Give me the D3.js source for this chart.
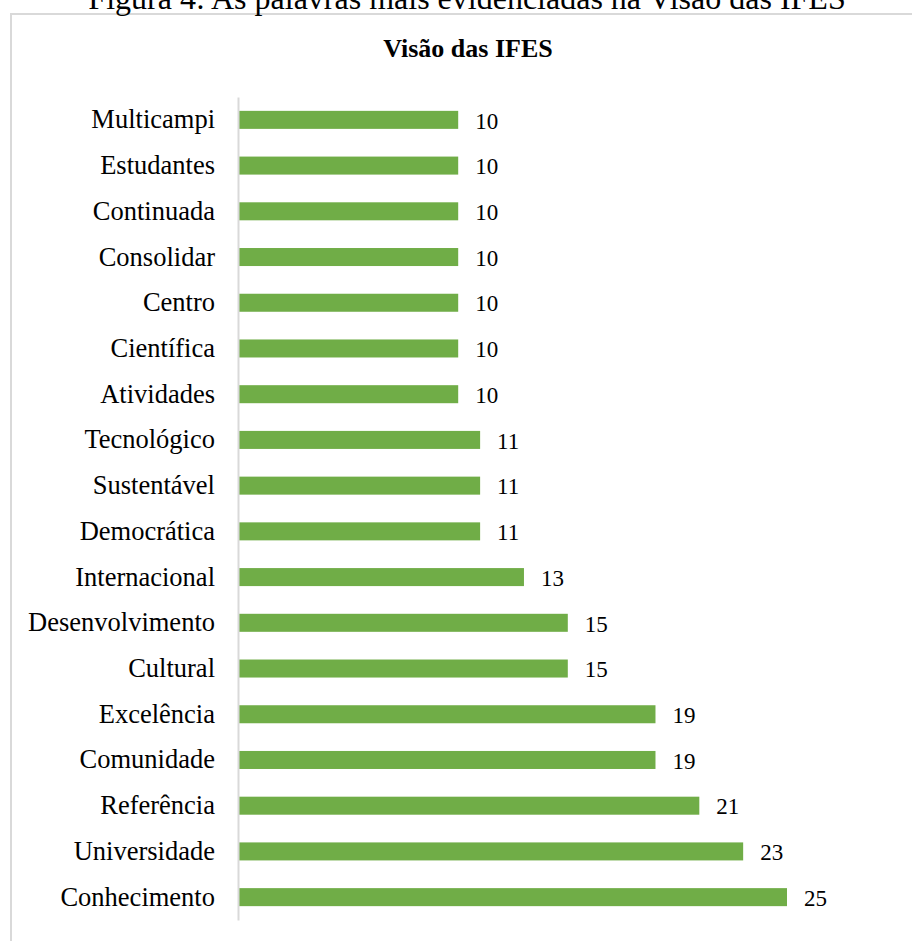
<!DOCTYPE html>
<html>
<head>
<meta charset="utf-8">
<script src="https://cdn.jsdelivr.net/npm/d3@7"></script>
<style>
  html, body { margin: 0; padding: 0; background: #fff; }
  svg { display: block; }
</style>
</head>
<body>
<div id="viz"></div>
<script>
// data, top to bottom as drawn
const words = ['Multicampi', 'Estudantes', 'Continuada', 'Consolidar', 'Centro', 'Científica',
  'Atividades', 'Tecnológico', 'Sustentável', 'Democrática', 'Internacional', 'Desenvolvimento',
  'Cultural', 'Excelência', 'Comunidade', 'Referência', 'Universidade', 'Conhecimento'];
const counts = [10, 10, 10, 10, 10, 10, 10, 11, 11, 11, 13, 15, 15, 19, 19, 21, 23, 25];

const caption = 'Figura 4: As palavras mais evidenciadas na Visão das IFES';
const title = 'Visão das IFES';

const width = 912, height = 941;
const font = '"Liberation Serif", "Times New Roman", serif';

const svg = d3.select('#viz').append('svg')
  .attr('width', width)
  .attr('height', height)
  .attr('font-family', font);

// chart frame (runs off the right and bottom of the picture)
svg.append('rect')
  .attr('x', 11).attr('y', 14)
  .attr('width', width).attr('height', height)
  .attr('fill', '#fff')
  .attr('stroke', '#d9d9d9')
  .attr('stroke-width', 2);

svg.append('text')
  .attr('x', 467).attr('y', 9)
  .attr('text-anchor', 'middle')
  .attr('font-size', 32)
  .attr('fill', '#000')
  .text(caption);

svg.append('text')
  .attr('x', 468).attr('y', 57)
  .attr('text-anchor', 'middle')
  .attr('font-size', 26)
  .attr('font-weight', 'bold')
  .attr('fill', '#000')
  .text(title);

const x = d3.scaleLinear().domain([0, 25]).range([239, 787]);
const y = d3.scaleBand().domain(words).range([97, 920])
  .paddingInner(0.606).paddingOuter(0.303);

const data = words.map((w, i) => ({ word: w, n: counts[i] }));

svg.append('g')
  .selectAll('rect')
  .data(data)
  .join('rect')
  .attr('x', x(0))
  .attr('y', (d) => y(d.word))
  .attr('width', (d) => x(d.n) - x(0))
  .attr('height', y.bandwidth())
  .attr('fill', '#70ad47');

const yAxis = svg.append('g')
  .attr('transform', `translate(${x(0) - 1},0)`)
  .call(d3.axisLeft(y).tickSize(0).tickPadding(23));
yAxis.select('.domain').attr('stroke', '#d9d9d9').attr('stroke-width', 2);
yAxis.selectAll('text')
  .attr('font-family', font)
  .attr('font-size', 26.5)
  .attr('fill', '#000');

svg.append('g')
  .selectAll('text')
  .data(data)
  .join('text')
  .attr('x', (d) => x(d.n) + 17)
  .attr('y', (d) => y(d.word) + y.bandwidth() / 2)
  .attr('dy', '0.38em')
  .attr('font-size', 23)
  .attr('fill', '#000')
  .text((d) => d.n);
</script>
</body>
</html>
